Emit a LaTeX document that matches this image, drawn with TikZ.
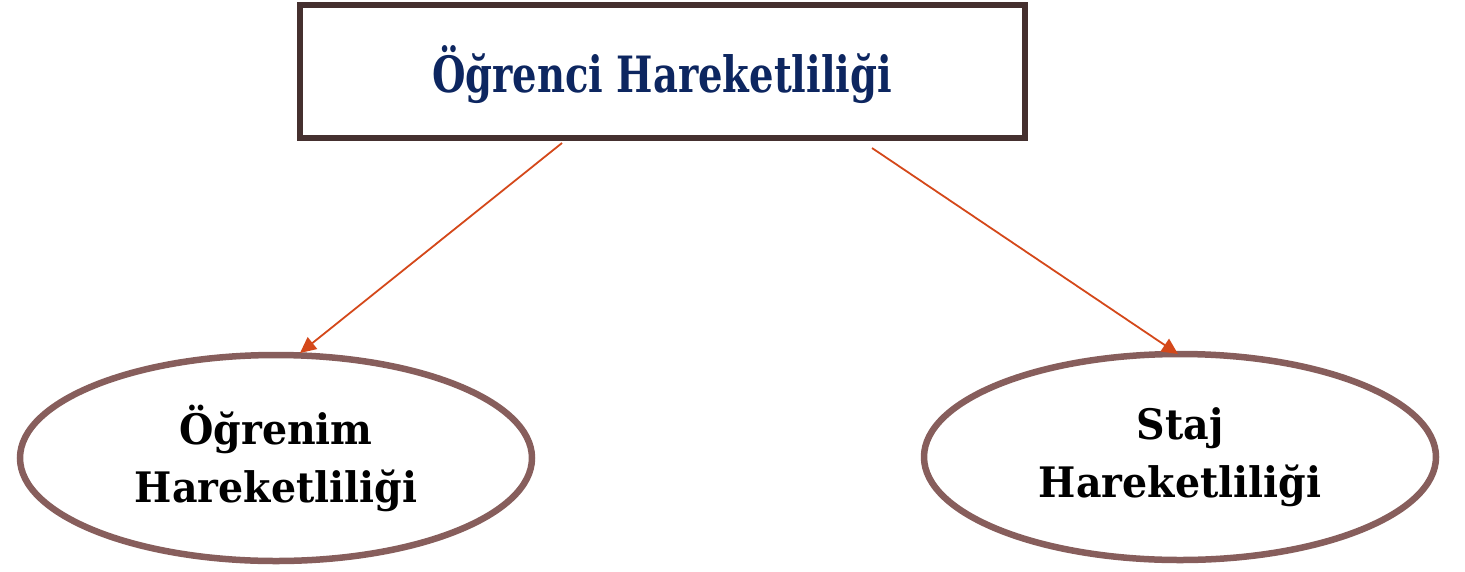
\documentclass[tikz,border=0pt]{standalone}
\usepackage{fontspec}
\usetikzlibrary{shapes.geometric,arrows.meta}
\newfontfamily\titlefont[FakeStretch=0.77]{DejaVu Serif}
\newfontfamily\ellfont[FakeStretch=0.94]{DejaVu Serif}
\definecolor{boxline}{HTML}{45302F}
\definecolor{ellline}{HTML}{875E5C}
\definecolor{arrowcol}{HTML}{D4481A}
\definecolor{titlecol}{HTML}{0D2660}
\tikzset{
  topbox/.style={draw=boxline, line width=6pt, fill=white, minimum width=725pt, minimum height=133pt, inner sep=0pt},
  ellbox/.style={ellipse, draw=ellline, line width=6.5pt, fill=white, minimum width=512pt, minimum height=206pt, inner sep=0pt, align=center,
     font=\ellfont\bfseries\fontsize{42}{58}\selectfont},
  conn/.style={draw=arrowcol, line width=1.8pt, -{Triangle[length=16pt,width=15pt]}}
}
\begin{document}
\begin{tikzpicture}[x=1pt,y=-1pt]
\useasboundingbox (0,0) rectangle (1465,571);
\node[topbox] (top) at (662.5,71.5) {};
\node[text=titlecol, font=\titlefont\bfseries\fontsize{50}{60}\selectfont, anchor=base] (title) at (662,92) {Öğrenci Hareketliliği};
\node[ellbox] (left) at (276,458) {Öğrenim\\Hareketliliği};
\node[ellbox] (right) at (1180,457) {Staj\\Hareketliliği};
\coordinate (s1) at (562,143);
\coordinate (e1) at (300,353);
\coordinate (s2) at (872,148);
\coordinate (e2) at (1178,354);
\draw[conn] (s1) -- (e1);
\draw[conn] (s2) -- (e2);
\end{tikzpicture}
\end{document}
